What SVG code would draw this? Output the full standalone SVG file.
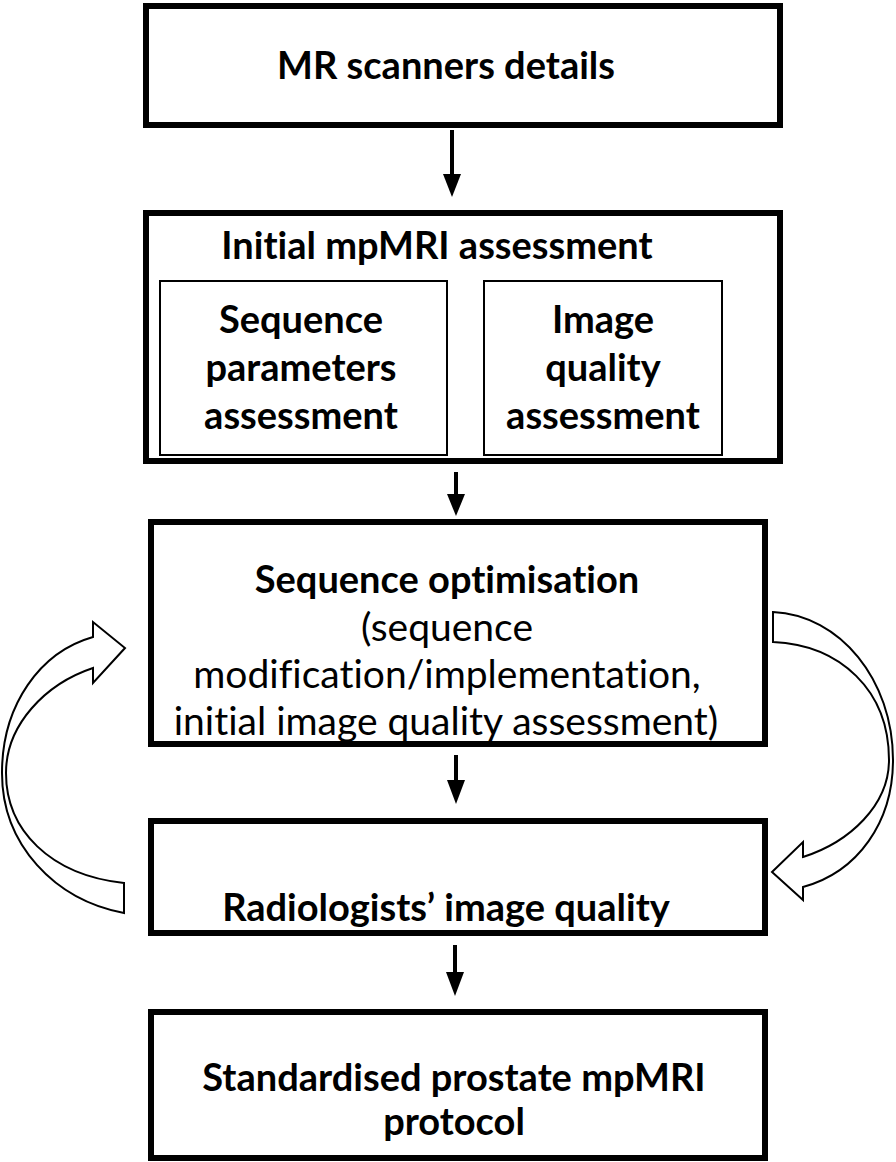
<svg xmlns="http://www.w3.org/2000/svg" width="896" height="1162" viewBox="0 0 896 1162">
<defs>
<style>
.box{fill:#fff;stroke:#000;stroke-width:6}
.inner{fill:#fff;stroke:#000;stroke-width:2}
.b{font-family:Lato,"Liberation Sans",sans-serif;font-weight:bold;font-size:38px;fill:#000;text-anchor:middle;font-variant-ligatures:none}
.r{font-family:Lato,"Liberation Sans",sans-serif;font-size:39px;fill:#000;text-anchor:middle;font-variant-ligatures:none}
.line{stroke:#000;stroke-width:4;fill:none}
.curve{fill:#fff;stroke:#000;stroke-width:2;stroke-linejoin:miter}
</style>
</defs>
<rect width="896" height="1162" fill="#fff"/>
<g id="connectors">
<path class="line" d="M452,130 L452,178"/>
<path d="M443,174 L461,174 L452,197 z" fill="#000"/>
<path class="line" d="M456,472 L456,498"/>
<path d="M447,494 L465,494 L456,516 z" fill="#000"/>
<path class="line" d="M456,755 L456,784"/>
<path d="M447,780 L465,780 L456,804 z" fill="#000"/>
<path class="line" d="M455,945 L455,976"/>
<path d="M446,972 L464,972 L455,996 z" fill="#000"/>
<path class="curve" d="M124,913 C55,900 2,845 2,773 C2,705 40,652 93,637 L93,622 L125,648 L93,683 L93,668 C45,684 6,725 6,773 C6,830 50,875 124,883 Z"/>
<path class="curve" d="M773,612 C840,615 893,680 893,760 C893,822 858,872 803,887 L803,900 L772,872 L803,842 L803,857 C850,842 889,805 889,760 C889,690 840,645 773,642 Z"/>
</g>
<g id="n1">
<rect class="box" x="146" y="6" width="634" height="119"/>
<text class="b" x="446" y="79">MR scanners details</text>
</g>
<g id="n2">
<rect class="box" x="146" y="213" width="634" height="248"/>
<text class="b" x="437" y="259">Initial mpMRI assessment</text>
</g>
<g id="n2a">
<rect class="inner" x="160" y="281" width="287" height="174"/>
<text class="b" x="301" y="333">Sequence</text>
<text class="b" x="301" y="381">parameters</text>
<text class="b" x="301" y="429">assessment</text>
</g>
<g id="n2b">
<rect class="inner" x="484" y="281" width="238" height="174"/>
<text class="b" x="603" y="333">Image</text>
<text class="b" x="603" y="381">quality</text>
<text class="b" x="603" y="429">assessment</text>
</g>
<g id="n3">
<rect class="box" x="151" y="522" width="614" height="222"/>
<text class="b" x="447" y="593">Sequence optimisation</text>
<text class="r" x="447" y="641">(sequence</text>
<text class="r" x="447" y="688">modification/implementation,</text>
<text class="r" x="446" y="735">initial image quality assessment)</text>
</g>
<g id="n4">
<rect class="box" x="151" y="821" width="614" height="112"/>
<text class="b" x="446" y="921">Radiologists’ image quality</text>
</g>
<g id="n5">
<rect class="box" x="151" y="1012" width="614" height="146"/>
<text class="b" x="454" y="1091">Standardised prostate mpMRI</text>
<text class="b" x="454" y="1135">protocol</text>
</g>
</svg>
